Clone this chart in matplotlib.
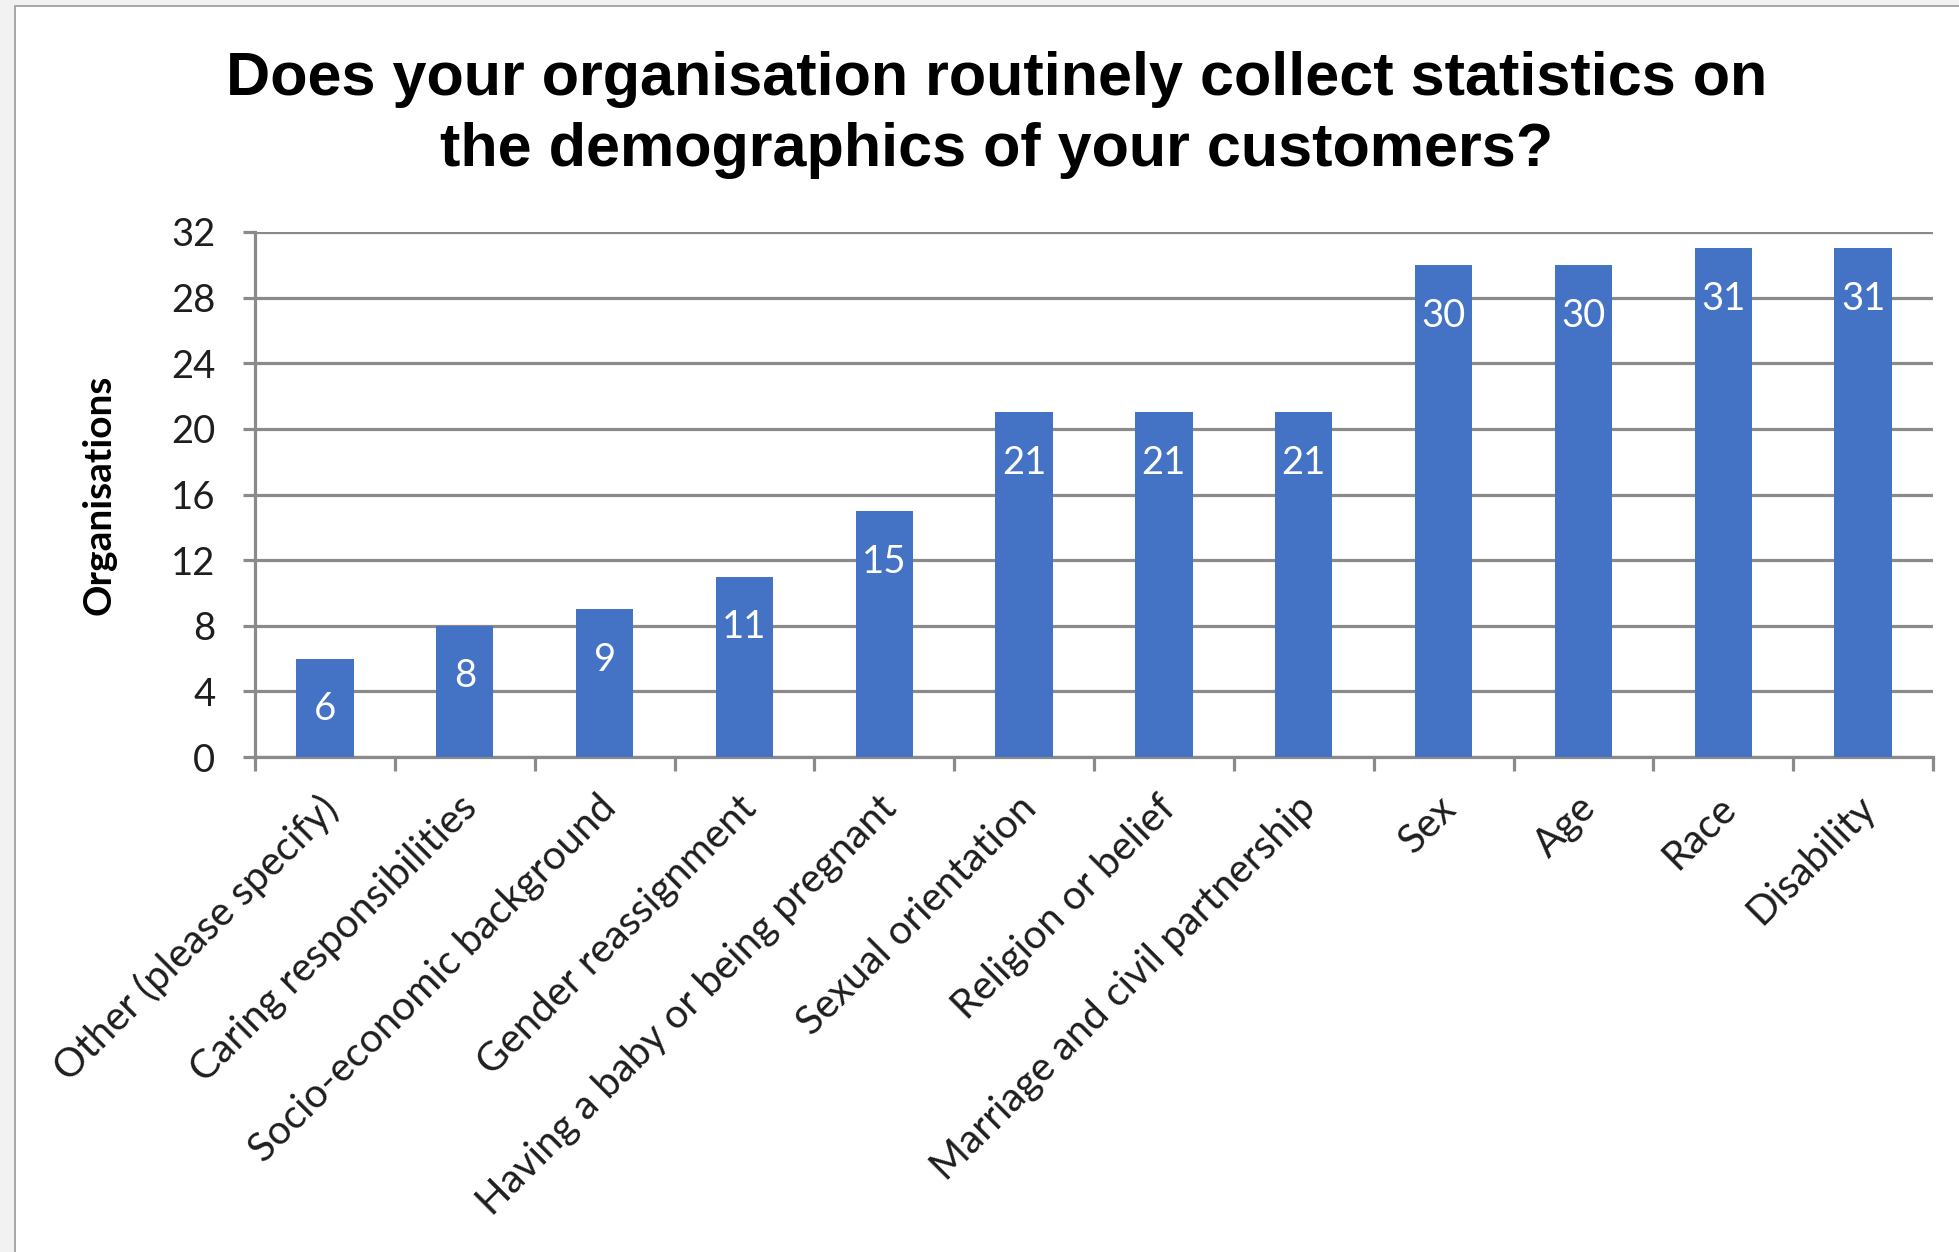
import matplotlib
matplotlib.use("Agg")
import matplotlib.pyplot as plt
import matplotlib.transforms as mtransforms
from matplotlib.patches import Rectangle
import numpy as np

# ---- data ----
categories = [
    "Other (please specify)",
    "Caring responsibilities",
    "Socio-economic background",
    "Gender reassignment",
    "Having a baby or being pregnant",
    "Sexual orientation",
    "Religion or belief",
    "Marriage and civil partnership",
    "Sex",
    "Age",
    "Race",
    "Disability",
]
values = [6, 8, 9, 11, 15, 21, 21, 21, 30, 30, 31, 31]
y_ticks = [0, 4, 8, 12, 16, 20, 24, 28, 32]
title_lines = ["Does your organisation routinely collect statistics on",
               "the demographics of your customers?"]
y_label = "Organisations"

W, H = 1959, 1252
DPI = 100
BAR = "#4472C4"
GRID = "#8a8a8a"
TXT = "#1e1e1e"
LBL_FONT = "Lato"

fig = plt.figure(figsize=(W / DPI, H / DPI), dpi=DPI, facecolor="#f2f2f2")

# white chart frame
frame = Rectangle((15 / W, -0.05), 1.2, 1 - 6 / H + 0.05, transform=fig.transFigure,
                  facecolor="white", edgecolor="#a6a6a6", linewidth=1.4, zorder=-5)
fig.patches.append(frame)

left, right = 255 / W, 1933 / W
bottom, top = 1 - 757 / H, 1 - 232 / H
ax = fig.add_axes([left, bottom, right - left, top - bottom])
ax.set_zorder(2)
ax.set_facecolor("white")

x = np.arange(len(categories))
bars = ax.bar(x, values, width=0.41, color=BAR, zorder=3)

ax.set_xlim(-0.5, len(categories) - 0.5)
ax.set_ylim(0, 32)
ax.set_yticks(y_ticks)
ax.set_yticklabels([str(t) for t in y_ticks], fontfamily=LBL_FONT, fontsize=27.5, color=TXT)

ax.yaxis.grid(True, color=GRID, linewidth=2.3, zorder=1)
ax.set_axisbelow(True)
for s in ["top", "right"]:
    ax.spines[s].set_visible(False)
for s in ["left", "bottom"]:
    ax.spines[s].set_color(GRID)
    ax.spines[s].set_linewidth(2.3)

ax.tick_params(axis="y", direction="out", length=8.6, width=2.3, color=GRID, pad=20)

# category boundary ticks
ax.set_xticks(np.arange(-0.5, len(categories), 1.0), minor=True)
ax.tick_params(axis="x", which="minor", direction="out", length=10, width=2.3, color=GRID)
ax.set_xticks(x)
ax.set_xticklabels(categories, rotation=45, ha="right", va="top",
                   rotation_mode="anchor", fontfamily=LBL_FONT, fontsize=29, color=TXT)
ax.tick_params(axis="x", which="major", length=0, pad=23)
offset = mtransforms.ScaledTranslation(-7 / DPI, 0, fig.dpi_scale_trans)
for lab in ax.get_xticklabels():
    lab.set_transform(lab.get_transform() + offset)

# data labels
for xi, v in zip(x, values):
    ax.annotate(str(v), xy=(xi, v), xytext=(0, -36.5), textcoords="offset points",
                ha="center", va="center", color="white", fontfamily=LBL_FONT,
                fontsize=27.5, zorder=4)

# title
fig.text(997 / W, 1 - 95 / H, title_lines[0], ha="center", va="baseline",
         fontfamily="Liberation Sans", fontweight="bold", fontsize=44, color="black")
fig.text(997 / W, 1 - 166 / H, title_lines[1], ha="center", va="baseline",
         fontfamily="Liberation Sans", fontweight="bold", fontsize=44, color="black")

# y label
fig.text(99 / W, 1 - 495 / H, y_label, rotation=90, ha="center", va="center",
         fontfamily=LBL_FONT, fontweight="bold", fontsize=28, color="black")

fig.savefig("out.png", dpi=DPI, facecolor=fig.get_facecolor())
